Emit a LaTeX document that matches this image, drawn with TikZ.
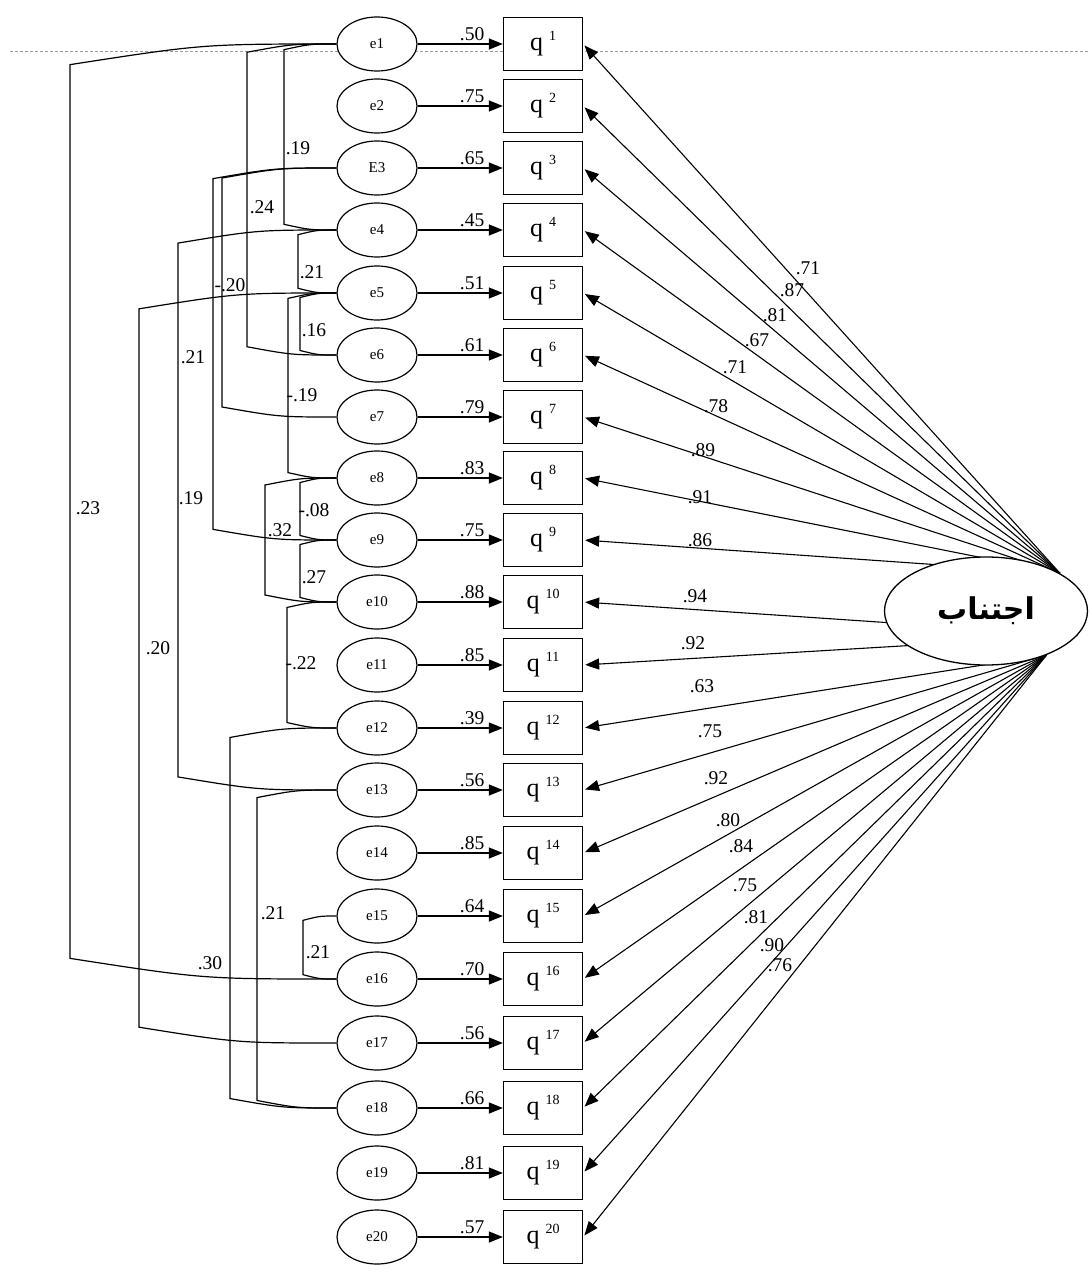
\documentclass[tikz,border=0pt]{standalone}
\usepackage{fontspec}
\setmainfont{Liberation Serif}
\newfontfamily\arabicfont[Script=Arabic]{DejaVu Sans}
\TeXXeTstate=1
\usepackage{tikz}
\usetikzlibrary{arrows.meta,calc,backgrounds,shapes.geometric}
\definecolor{guidegray}{HTML}{9A9A9A}

\tikzset{
  errnode/.style={draw, ellipse, fill=white, line width=1.2pt, minimum width=80pt,
    minimum height=54pt, inner sep=0pt, font=\fontsize{15}{15}\selectfont},
  obsbox/.style={draw, rectangle, fill=white, line width=1.3pt, minimum width=79pt,
    minimum height=53pt, inner sep=0pt, font=\fontsize{26}{26}\selectfont},
  latnode/.style={draw, ellipse, fill=white, line width=1.3pt, minimum width=203pt,
    minimum height=108pt, inner sep=0pt},
  regarrow/.style={line width=1.2pt, -{Triangle[length=14pt,width=11pt]}},
  loadarrow/.style={line width=1.1pt, -{Triangle[length=14pt,width=11pt]}, shorten >=2pt},
  covline/.style={line width=1.2pt},
  wlab/.style={font=\fontsize{19.5}{19.5}\selectfont, inner sep=1pt},
}

% q label with a small raised index
\newcommand{\qlab}[1]{q\hspace{6pt}\raisebox{10pt}{\fontsize{14}{14}\selectfont #1}}

% bracket-like covariance between two error terms
\newcommand{\covpath}[5]{%
  \draw[covline] let \p1=(#1.west), \p2=(#2.west), \n1={\x1-#3pt}, \n2={0.07*\n1+2pt} in
    (\p1) .. controls +(-0.5*\n1,0) .. (#3pt,\y1-\n2) -- (#3pt,\y2+\n2)
    .. controls +(0.5*\n1,-\n2) .. (\p2)
    node[wlab] at #5 {#4};}

\begin{document}
\begin{tikzpicture}[x=1pt, y=-1pt]
  \useasboundingbox (0,0) rectangle (1089,1284);

  % latent factor
  \node[latnode] (lat) at (986,611) {\fontsize{30}{30}\selectfont\arabicfont\bfseries\beginR اجتناب\endR};

  \begin{pgfonlayer}{background}
    \coordinate (guideL) at (10,51);
    \coordinate (guideR) at (1089,51);
    \draw[guidegray, line width=0.8pt, dash pattern=on 3pt off 2pt] (guideL) -- (guideR);
  \end{pgfonlayer}

  % error terms, items and paths
  \foreach \i/\y/\en/\w in {1/44/e1/.50, 2/106/e2/.75, 3/168/E3/.65, 4/230/e4/.45,
      5/293/e5/.51, 6/355/e6/.61, 7/417/e7/.79, 8/478/e8/.83, 9/540/e9/.75,
      10/602/e10/.88, 11/665/e11/.85, 12/728/e12/.39, 13/790/e13/.56, 14/853/e14/.85,
      15/916/e15/.64, 16/979/e16/.70, 17/1043/e17/.56, 18/1108/e18/.66,
      19/1173/e19/.81, 20/1237/e20/.57} {
    \node[errnode] (e\i) at (377,\y) {\en};
    \node[obsbox] (q\i) at (543,\y) {\qlab{\i}};
    \draw[regarrow] (e\i) -- (q\i) node[wlab, pos=0.64, above=2pt] {\w};
  }

  % loadings
  \begin{pgfonlayer}{background}
    \foreach \i/\s/\v/\lx/\ly in {1/27/.71/808/268, 2/27/.87/792/290, 3/27/.81/775/315,
        4/27/.67/757/340, 5/27/.71/735/367, 6/27/.78/716/406, 7/27/.89/703/450,
        8/27/.91/700/497, 9/27/.86/700/540, 10/-15/.94/695/596, 11/-15/.92/693/643,
        12/-36/.63/702/686, 13/-36/.75/710/731, 14/-36/.92/716/778, 15/-36/.80/728/820,
        16/-36/.84/741/846, 17/-36/.75/745/885, 18/-36/.81/756/917, 19/-36/.90/772/945,
        20/-36/.76/780/965} {
      \draw[loadarrow] (lat.\s) -- (q\i.east) node[wlab] at (\lx,\ly) {\v};
    }
  \end{pgfonlayer}

  % covariances
  \covpath{e1}{e16}{70}{.23}{(88,508)}
  \covpath{e1}{e6}{247}{.24}{(262,207)}
  \covpath{e1}{e4}{284}{.19}{(298,148)}
  \covpath{e3}{e9}{213}{.21}{(193,357)}
  \covpath{e3}{e7}{222}{-.20}{(230,285)}
  \covpath{e4}{e13}{178}{.19}{(191,498)}
  \covpath{e4}{e5}{298}{.21}{(312,272)}
  \covpath{e5}{e17}{139}{.20}{(158,648)}
  \covpath{e5}{e8}{288}{-.19}{(302,395)}
  \covpath{e5}{e6}{300}{.16}{(314,330)}
  \covpath{e8}{e10}{265}{.32}{(280,530)}
  \covpath{e8}{e9}{300}{-.08}{(314,510)}
  \covpath{e9}{e10}{300}{.27}{(314,577)}
  \covpath{e10}{e12}{287}{-.22}{(301,663)}
  \covpath{e12}{e18}{230}{.30}{(210,963)}
  \covpath{e13}{e18}{257}{.21}{(273,913)}
  \covpath{e15}{e16}{303}{.21}{(318,952)}
\end{tikzpicture}
\end{document}
